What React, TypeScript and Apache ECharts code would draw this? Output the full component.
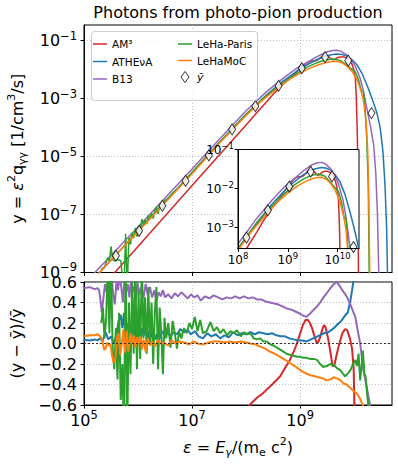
import React, { useEffect, useRef } from 'react';
import * as echarts from 'echarts';

const FONT = 'DejaVu Sans';
const NAMES = ['AM³', 'ATHEνA', 'B13', 'LeHa-Paris', 'LeHaMoC'];
const MEAN_NAME = 'ȳ';
const COLORS = ['#d62728', '#1f77b4', '#9467bd', '#2ca02c', '#ff7f0e'];

// ---------- upper panel: log10(ε) and log10(y) ----------
const am3LogE = [5.45, 6.0, 6.5, 7.0, 7.5, 8.04, 8.2, 8.38, 8.5, 8.63, 8.72, 8.81, 8.88, 8.94, 9.0, 9.05, 9.12, 9.18, 9.22, 9.27, 9.31, 9.35, 9.4, 9.44, 9.47, 9.52, 9.57, 9.6, 9.64, 9.68, 9.74, 9.8, 9.86, 9.92, 9.96, 9.99, 10.02, 10.04, 10.06, 10.07, 10.08];
const am3LogY = [-9.25, -8.1, -7.05, -6.0, -4.95, -3.82, -3.48, -3.11, -2.85, -2.6, -2.43, -2.29, -2.17, -2.06, -1.96, -1.87, -1.77, -1.71, -1.7, -1.7, -1.68, -1.63, -1.55, -1.51, -1.51, -1.55, -1.62, -1.66, -1.65, -1.59, -1.56, -1.56, -1.6, -1.7, -1.82, -1.98, -2.3, -3.0, -4.5, -6.5, -9.5];

const athenaLogE = [5.1, 5.5, 6.0, 6.5, 7.0, 7.5, 8.0, 8.38, 8.69, 9.0, 9.12, 9.31, 9.49, 9.6, 9.68, 9.78, 9.86, 9.96, 10.05, 10.15, 10.25, 10.33, 10.42, 10.48, 10.53, 10.57, 10.6, 10.62];
const athenaLogY = [-9.38, -8.58, -7.56, -6.56, -5.56, -4.52, -3.54, -2.87, -2.39, -1.97, -1.84, -1.65, -1.52, -1.48, -1.46, -1.48, -1.53, -1.66, -1.83, -2.15, -2.6, -3.0, -3.5, -4.0, -4.8, -6.0, -7.5, -9.5];

const b13LogE = [5.1, 5.5, 6.0, 6.5, 7.0, 7.5, 8.0, 8.38, 8.69, 8.94, 9.12, 9.31, 9.49, 9.6, 9.68, 9.76, 9.86, 9.94, 10.02, 10.11, 10.17, 10.24, 10.3, 10.36, 10.4, 10.43, 10.46];
const b13LogY = [-9.2, -8.41, -7.43, -6.43, -5.43, -4.41, -3.42, -2.76, -2.29, -1.95, -1.76, -1.55, -1.39, -1.34, -1.33, -1.37, -1.49, -1.65, -1.88, -2.3, -2.73, -3.4, -3.95, -4.6, -5.6, -7.0, -9.5];

const lehaLogE = [5.32, 5.38, 5.44, 5.47, 5.5, 5.53, 5.56, 5.62, 5.68, 5.74, 5.77, 5.8, 5.83, 5.86, 5.89, 5.92, 5.95, 5.98, 6.01, 6.04, 6.07, 6.1, 6.13, 6.16, 6.19, 6.22, 6.25, 6.28, 6.31, 6.34, 6.37, 6.4, 6.43, 6.46, 6.49, 6.55, 6.65, 6.75, 6.85, 7.0, 7.5, 8.0, 8.3, 8.57, 8.75, 8.94, 9.12, 9.31, 9.46, 9.62, 9.74, 9.83, 9.93, 10.02, 10.08, 10.13, 10.17, 10.2, 10.23, 10.26, 10.28];
const lehaLogY = [-8.88, -8.82, -8.48, -8.62, -8.1, -8.56, -8.6, -8.55, -8.59, -9.6, -7.66, -9.6, -7.79, -8.03, -7.62, -7.81, -7.46, -7.76, -7.4, -7.59, -7.16, -7.38, -7.18, -7.33, -7.03, -7.16, -6.95, -7.14, -6.87, -6.73, -6.98, -6.67, -6.7, -6.83, -6.52, -6.45, -6.24, -6.08, -5.85, -5.54, -4.52, -3.54, -3.02, -2.61, -2.37, -2.13, -1.92, -1.76, -1.67, -1.63, -1.68, -1.8, -1.95, -2.08, -2.35, -2.72, -2.78, -3.3, -4.3, -6.0, -9.5];

const lehamocLogE = [5.1, 5.5, 6.0, 6.5, 7.0, 7.5, 8.0, 8.26, 8.44, 8.63, 8.81, 9.0, 9.19, 9.34, 9.49, 9.6, 9.68, 9.78, 9.86, 9.96, 10.05, 10.11, 10.17, 10.22, 10.25, 10.27, 10.29];
const lehamocLogY = [-9.37, -8.57, -7.59, -6.59, -5.59, -4.55, -3.58, -3.12, -2.85, -2.57, -2.33, -2.12, -1.94, -1.83, -1.75, -1.72, -1.71, -1.77, -1.87, -2.06, -2.34, -2.64, -3.05, -3.8, -4.8, -6.5, -9.5];

const meanLogE = [5.59, 6.02, 6.45, 6.88, 7.31, 7.74, 8.17, 8.6, 9.03, 9.46, 9.89, 10.32];
const meanLogY = [-8.42, -7.56, -6.7, -5.84, -4.96, -4.06, -3.26, -2.56, -1.95, -1.57, -1.69, -3.5];

// ---------- lower panel: log10(ε) and (y - ȳ)/ȳ ----------
const am3ResLogE = [7.8, 7.95, 8.04, 8.1, 8.2, 8.3, 8.38, 8.5, 8.63, 8.72, 8.81, 8.88, 8.94, 9.0, 9.05, 9.1, 9.14, 9.18, 9.22, 9.27, 9.31, 9.35, 9.4, 9.44, 9.47, 9.52, 9.57, 9.6, 9.63, 9.67, 9.72, 9.78, 9.83, 9.87, 9.92, 9.96, 9.99, 10.01];
const am3Res = [-0.8, -0.68, -0.62, -0.58, -0.53, -0.49, -0.45, -0.39, -0.32, -0.24, -0.16, -0.08, 0.0, 0.1, 0.18, 0.23, 0.23, 0.2, 0.15, 0.06, 0.0, 0.03, 0.12, 0.18, 0.16, 0.04, -0.12, -0.22, -0.22, -0.12, -0.01, 0.1, 0.14, 0.13, 0.05, -0.05, -0.25, -0.8];

const athenaResLogE = [5.0, 5.1, 5.2, 5.25, 5.3, 5.34, 5.4, 5.45, 5.5, 5.55, 5.6, 5.64, 5.68, 5.71, 5.74, 5.77, 5.8, 5.83, 5.86, 5.89, 5.93, 5.96, 5.99, 6.02, 6.05, 6.08, 6.11, 6.14, 6.17, 6.2, 6.24, 6.28, 6.32, 6.36, 6.4, 6.45, 6.5, 6.55, 6.6, 6.66, 6.72, 6.78, 6.85, 6.92, 6.98, 7.05, 7.12, 7.2, 7.28, 7.36, 7.44, 7.52, 7.6, 7.68, 7.76, 7.84, 7.92, 8.0, 8.08, 8.16, 8.24, 8.32, 8.4, 8.48, 8.56, 8.64, 8.72, 8.8, 8.88, 8.96, 9.04, 9.12, 9.2, 9.28, 9.36, 9.44, 9.52, 9.6, 9.68, 9.76, 9.84, 9.88, 9.93, 9.96, 10.0];
const athenaRes = [0.04, 0.03, 0.04, 0.03, 0.05, 0.02, 0.11, 0.04, 0.07, 0.0, 0.08, 0.22, 0.28, 0.15, 0.3, 0.06, 0.2, 0.14, 0.03, 0.18, 0.25, 0.05, 0.12, 0.22, 0.04, 0.15, 0.08, 0.18, 0.02, 0.12, 0.06, 0.15, 0.04, 0.1, 0.05, 0.12, 0.08, 0.1, 0.07, 0.11, 0.09, 0.14, 0.11, 0.13, 0.09, 0.12, 0.07, 0.05, 0.1, 0.07, 0.09, 0.05, 0.08, 0.06, 0.11, 0.08, 0.1, 0.09, 0.11, 0.09, 0.11, 0.1, 0.09, 0.1, 0.08, 0.07, 0.07, 0.05, 0.04, 0.03, 0.03, 0.02, 0.04, 0.06, 0.08, 0.1, 0.11, 0.14, 0.18, 0.22, 0.28, 0.3, 0.42, 0.52, 0.66];

const b13ResLogE = [5.0, 5.1, 5.2, 5.25, 5.28, 5.31, 5.33, 5.36, 5.39, 5.42, 5.45, 5.48, 5.51, 5.54, 5.57, 5.6, 5.63, 5.66, 5.69, 5.72, 5.75, 5.78, 5.81, 5.84, 5.87, 5.9, 5.93, 5.96, 5.99, 6.02, 6.06, 6.1, 6.14, 6.18, 6.22, 6.26, 6.3, 6.34, 6.38, 6.42, 6.46, 6.5, 6.56, 6.62, 6.68, 6.74, 6.8, 6.86, 6.92, 6.98, 7.04, 7.1, 7.16, 7.24, 7.32, 7.4, 7.48, 7.56, 7.64, 7.72, 7.8, 7.88, 7.96, 8.04, 8.12, 8.2, 8.28, 8.36, 8.44, 8.52, 8.6, 8.68, 8.76, 8.84, 8.92, 9.0, 9.06, 9.12, 9.18, 9.25, 9.31, 9.37, 9.43, 9.49, 9.56, 9.62, 9.68, 9.72, 9.78, 9.86, 9.93, 9.98, 10.02, 10.06, 10.11, 10.17, 10.24, 10.3];
const b13Res = [0.54, 0.55, 0.53, 0.54, 0.52, 0.4, 0.3, 0.45, 0.58, 0.5, 0.62, 0.52, 0.66, 0.48, 0.38, 0.6, 0.52, 0.66, 0.55, 0.4, 0.64, 0.5, 0.58, 0.45, 0.62, 0.5, 0.56, 0.42, 0.6, 0.48, 0.55, 0.44, 0.58, 0.47, 0.55, 0.45, 0.52, 0.42, 0.5, 0.46, 0.52, 0.45, 0.48, 0.44, 0.49, 0.46, 0.5, 0.47, 0.44, 0.48, 0.45, 0.47, 0.42, 0.46, 0.44, 0.47, 0.45, 0.43, 0.45, 0.44, 0.46, 0.44, 0.46, 0.44, 0.45, 0.43, 0.43, 0.41, 0.4, 0.39, 0.38, 0.36, 0.34, 0.33, 0.31, 0.29, 0.27, 0.26, 0.29, 0.33, 0.36, 0.4, 0.45, 0.49, 0.54, 0.58, 0.6, 0.57, 0.52, 0.46, 0.38, 0.31, 0.26, 0.14, 0.0, -0.26, -0.45, -0.62];

const lehaResLogE = [5.32, 5.35, 5.38, 5.41, 5.44, 5.47, 5.5, 5.53, 5.56, 5.59, 5.62, 5.65, 5.68, 5.71, 5.74, 5.77, 5.8, 5.83, 5.86, 5.89, 5.92, 5.95, 5.98, 6.01, 6.04, 6.07, 6.1, 6.13, 6.16, 6.19, 6.22, 6.25, 6.28, 6.31, 6.34, 6.37, 6.4, 6.43, 6.46, 6.49, 6.52, 6.56, 6.6, 6.64, 6.68, 6.72, 6.76, 6.8, 6.85, 6.9, 6.95, 7.0, 7.05, 7.1, 7.15, 7.2, 7.27, 7.34, 7.4, 7.46, 7.52, 7.58, 7.65, 7.71, 7.77, 7.83, 7.9, 7.96, 8.02, 8.08, 8.14, 8.2, 8.26, 8.32, 8.38, 8.45, 8.51, 8.57, 8.63, 8.69, 8.75, 8.81, 8.88, 8.94, 9.0, 9.06, 9.12, 9.18, 9.25, 9.31, 9.37, 9.43, 9.49, 9.56, 9.62, 9.68, 9.74, 9.8, 9.83, 9.87, 9.93, 9.98, 10.02, 10.05, 10.08, 10.11, 10.14, 10.16, 10.19, 10.21, 10.24, 10.27];
const lehaRes = [0.2, 0.35, 0.05, 0.25, 0.75, 0.1, 0.8, -0.05, -0.25, 0.15, -0.35, 0.3, -0.55, -0.2, -0.9, 0.85, -0.9, 0.4, -0.3, 0.6, -0.1, 0.75, -0.25, 0.5, -0.15, 0.8, 0.05, 0.45, -0.1, 0.55, 0.0, 0.4, -0.2, 0.3, 0.55, -0.25, 0.35, 0.1, -0.3, 0.25, 0.05, 0.2, -0.04, 0.22, 0.1, -0.05, 0.12, 0.05, 0.15, 0.1, 0.2, 0.14, 0.26, 0.12, 0.23, 0.1, 0.12, 0.21, 0.12, 0.16, 0.1, 0.14, 0.08, 0.12, 0.1, 0.13, 0.07, 0.11, 0.09, 0.1, 0.05, 0.04, 0.05, 0.02, 0.02, -0.01, -0.02, -0.04, -0.06, -0.08, -0.1, -0.11, -0.12, -0.13, -0.13, -0.14, -0.14, -0.15, -0.15, -0.16, -0.2, -0.23, -0.22, -0.2, -0.21, -0.24, -0.26, -0.3, -0.32, -0.3, -0.26, -0.2, -0.16, -0.22, -0.1, -0.36, -0.2, -0.07, -0.3, -0.32, -0.5, -0.65];

const lehamocResLogE = [5.0, 5.1, 5.2, 5.25, 5.3, 5.34, 5.37, 5.4, 5.43, 5.46, 5.49, 5.52, 5.55, 5.58, 5.61, 5.64, 5.67, 5.7, 5.73, 5.76, 5.79, 5.82, 5.86, 5.89, 5.92, 5.95, 5.98, 6.01, 6.04, 6.07, 6.1, 6.14, 6.18, 6.22, 6.26, 6.31, 6.36, 6.42, 6.48, 6.55, 6.62, 6.7, 6.78, 6.86, 6.94, 7.02, 7.1, 7.2, 7.3, 7.4, 7.5, 7.6, 7.7, 7.8, 7.9, 8.0, 8.08, 8.18, 8.26, 8.35, 8.44, 8.53, 8.63, 8.72, 8.81, 8.9, 9.0, 9.1, 9.19, 9.27, 9.34, 9.42, 9.49, 9.56, 9.62, 9.68, 9.75, 9.8, 9.86, 9.92, 9.98, 10.05, 10.11, 10.17];
const lehamocRes = [0.07, 0.08, 0.08, 0.09, 0.07, 0.03, -0.06, -0.05, 0.01, -0.02, -0.01, -0.12, -0.19, -0.15, 0.06, 0.1, -0.11, 0.0, 0.14, -0.09, 0.12, -0.08, 0.1, -0.01, 0.08, -0.04, 0.06, 0.0, 0.07, -0.06, 0.04, -0.08, 0.05, -0.02, 0.02, -0.03, 0.03, 0.0, 0.01, -0.02, 0.03, 0.0, 0.02, 0.01, -0.01, 0.02, 0.0, -0.01, 0.01, 0.02, 0.02, 0.01, 0.02, 0.01, 0.02, 0.01, 0.0, -0.01, -0.03, -0.05, -0.08, -0.1, -0.13, -0.16, -0.19, -0.22, -0.26, -0.29, -0.31, -0.32, -0.33, -0.34, -0.36, -0.35, -0.33, -0.34, -0.36, -0.39, -0.4, -0.43, -0.46, -0.49, -0.54, -0.62];

// ---------- axis ticks ----------
const X_TICKS = [1.0001e5, 1e7, 1e9];
const Y_TICKS = [1.0001e-9, 1e-7, 1e-5, 1e-3, 1e-1];
const INSET_X_TICKS = [1.0001e8, 1e9, 1e10];
const INSET_Y_TICKS = [1e-3, 1e-2, 0.09999];
const RES_TICKS_STEP = 0.2;

const toXY = (le: number[], ly: number[]) => le.map((e, i) => [Math.pow(10, e), Math.pow(10, ly[i])]);
const toXR = (le: number[], r: number[]) => le.map((e, i) => [Math.pow(10, e), r[i]]);

const TOP_DATA = [
  toXY(am3LogE, am3LogY),
  toXY(athenaLogE, athenaLogY),
  toXY(b13LogE, b13LogY),
  toXY(lehaLogE, lehaLogY),
  toXY(lehamocLogE, lehamocLogY),
];
const MEAN_DATA = toXY(meanLogE, meanLogY);
const RES_DATA = [
  toXR(am3ResLogE, am3Res),
  toXR(athenaResLogE, athenaRes),
  toXR(b13ResLogE, b13Res),
  toXR(lehaResLogE, lehaRes),
  toXR(lehamocResLogE, lehamocRes),
];

const pow10Label = (v: number) => {
  const e = Math.round(Math.log10(v));
  return `{b|10}{s|${e < 0 ? '\u2212' + -e : e}}`;
};

const richMain = {
  b: { fontSize: 16, lineHeight: 22, color: '#000', fontFamily: FONT },
  s: { fontSize: 11.5, lineHeight: 11, verticalAlign: 'top', color: '#000', fontFamily: FONT },
};
const richInset = {
  b: { fontSize: 12, lineHeight: 17, color: '#000', fontFamily: FONT },
  s: { fontSize: 8.5, lineHeight: 8, verticalAlign: 'top', color: '#000', fontFamily: FONT },
};
const richName = {
  a: { fontSize: 16, lineHeight: 22, color: '#000', fontFamily: FONT },
  i: { fontSize: 16, lineHeight: 22, color: '#000', fontFamily: FONT, fontStyle: 'italic' },
  p: { fontSize: 11, lineHeight: 11, verticalAlign: 'top', color: '#000', fontFamily: FONT },
  q: { fontSize: 11, lineHeight: 11, verticalAlign: 'bottom', color: '#000', fontFamily: FONT },
  qi: { fontSize: 11, lineHeight: 11, verticalAlign: 'bottom', color: '#000', fontFamily: FONT, fontStyle: 'italic' },
};

const black = { color: '#000', width: 1 };
const gridLine = { show: true, lineStyle: { color: '#b0b0b0', width: 0.8, type: [1, 2] } };

const LINE_ICON = 'path://M0,0L0.01,0L0.01,0.01Z M0,4.75L14,4.75L14,6.25L0,6.25Z M13.99,10.99L14,10.99L14,11Z';
const DIAMOND_ICON = 'path://M4,0L8,5.5L4,11L0,5.5Z';

function buildOption() {
  const series: any[] = [];
  // main panel
  TOP_DATA.forEach((d, i) => {
    series.push({
      type: 'line', name: NAMES[i], data: d, xAxisIndex: 0, yAxisIndex: 0,
      showSymbol: false, symbol: 'none', color: COLORS[i],
      lineStyle: { color: COLORS[i], width: 1.5 }, clip: true, silent: true, z: 2,
    });
  });
  series.push({
    type: 'scatter', name: MEAN_NAME, data: MEAN_DATA, xAxisIndex: 0, yAxisIndex: 0,
    symbol: 'diamond', symbolSize: [7, 11], silent: true, z: 3,
    itemStyle: { color: '#fff', borderColor: '#000', borderWidth: 1 },
  });
  // inset
  TOP_DATA.forEach((d, i) => {
    series.push({
      type: 'line', name: NAMES[i], data: d, xAxisIndex: 2, yAxisIndex: 2,
      showSymbol: false, symbol: 'none', color: COLORS[i],
      lineStyle: { color: COLORS[i], width: 1.5 }, clip: true, silent: true, z: 21,
    });
  });
  series.push({
    type: 'scatter', name: MEAN_NAME, data: MEAN_DATA, xAxisIndex: 2, yAxisIndex: 2,
    symbol: 'diamond', symbolSize: [7, 11], silent: true, z: 22,
    itemStyle: { color: '#fff', borderColor: '#000', borderWidth: 1 },
  });
  // residual panel
  RES_DATA.forEach((d, i) => {
    const s: any = {
      type: 'line', name: NAMES[i], data: d, xAxisIndex: 1, yAxisIndex: 1,
      showSymbol: false, symbol: 'none', color: COLORS[i],
      lineStyle: { color: COLORS[i], width: 2 }, clip: true, silent: true, z: 2,
    };
    if (i === 0) {
      s.markLine = {
        silent: true, symbol: 'none', label: { show: false },
        lineStyle: { color: '#333', width: 1, type: [2, 2] },
        data: [{ yAxis: 0 }],
      };
    }
    series.push(s);
  });

  const logX = (gridIndex: number, min: number, max: number, ticks: number[], labels: boolean, inset: boolean) => ({
    type: 'log', logBase: 10, gridIndex, min, max,
    axisLine: { show: true, onZero: false, lineStyle: black },
    axisTick: { show: true, length: 3.5, customValues: ticks, lineStyle: black },
    axisLabel: labels
      ? { show: true, customValues: ticks, formatter: pow10Label, margin: inset ? 3 : 4, rich: inset ? richInset : richMain }
      : { show: false },
    splitLine: inset ? { show: false } : gridLine,
    minorTick: { show: false },
    z: inset ? 23 : 0,
  });

  return {
    animation: false,
    backgroundColor: '#fff',
    textStyle: { fontFamily: FONT },
    title: {
      text: 'Photons from photo-pion production',
      left: 238, top: 4, textAlign: 'center', padding: 0,
      textStyle: { fontSize: 16, fontWeight: 'normal', color: '#000', fontFamily: FONT },
    },
    grid: [
      { left: 84, top: 25, width: 308, height: 247.5, show: true, borderColor: '#000', borderWidth: 1, backgroundColor: 'transparent', containLabel: false, outerBoundsMode: 'none' },
      { left: 84, top: 282, width: 308, height: 123, show: true, borderColor: '#000', borderWidth: 1, backgroundColor: 'transparent', containLabel: false, outerBoundsMode: 'none' },
      { left: 238, top: 149.5, width: 121, height: 99, show: true, borderColor: '#000', borderWidth: 1, backgroundColor: '#fff', containLabel: false, outerBoundsMode: 'none', z: 20 },
    ],
    xAxis: [
      logX(0, 1e5, 5.0e10, X_TICKS, false, false),
      {
        ...logX(1, 1e5, 5.0e10, X_TICKS, true, false),
        name: '{i|ε}{a| = }{i|E}{qi|γ}{a|/(m}{q|e}{a| c}{p|2}{a|)}',
        nameLocation: 'middle', nameGap: 31,
        nameTextStyle: { rich: richName, fontSize: 16, color: '#000' },
      },
      logX(2, 1e8, 2.7e10, INSET_X_TICKS, true, true),
    ],
    yAxis: [
      {
        type: 'log', logBase: 10, gridIndex: 0, min: 1e-9, max: 0.347,
        axisLine: { show: true, lineStyle: black },
        axisTick: { show: true, length: 3.5, customValues: Y_TICKS, lineStyle: black },
        axisLabel: { show: true, customValues: Y_TICKS, formatter: pow10Label, margin: 7, rich: richMain },
        splitLine: gridLine, minorTick: { show: false },
        name: '{a|y = }{i|ε}{p|2}{a|q}{q|γγ}{a| [1/cm}{p|3}{a|/s]}',
        nameLocation: 'middle', nameRotate: 90, nameGap: 56,
        nameTextStyle: { rich: richName, fontSize: 16, color: '#000' },
      },
      {
        type: 'value', gridIndex: 1, min: -0.6, max: 0.6, interval: RES_TICKS_STEP,
        axisLine: { show: true, onZero: false, lineStyle: black },
        axisTick: { show: true, length: 3.5, lineStyle: black },
        axisLabel: {
          show: true, margin: 7, fontSize: 16, color: '#000', fontFamily: FONT,
          formatter: (v: number) => (Math.abs(v) < 1e-9 ? '0.0' : v.toFixed(1).replace('-', '\u2212')),
        },
        splitLine: gridLine,
        name: '(y \u2212 ȳ)/ȳ',
        nameLocation: 'middle', nameRotate: 90, nameGap: 56,
        nameTextStyle: { fontSize: 16, lineHeight: 22, color: '#000', fontFamily: FONT },
      },
      {
        type: 'log', logBase: 10, gridIndex: 2, min: 2.9e-4, max: 0.1,
        axisLine: { show: true, lineStyle: black },
        axisTick: { show: true, length: 3.5, customValues: INSET_Y_TICKS, lineStyle: black },
        axisLabel: { show: true, customValues: INSET_Y_TICKS, formatter: pow10Label, margin: 4, rich: richInset },
        splitLine: { show: false }, minorTick: { show: false }, z: 23,
      },
    ],
    legend: [
      {
        data: NAMES.slice(0, 3).map((n) => ({ name: n, icon: LINE_ICON })),
        left: 93, top: 37.5, orient: 'vertical', padding: 0,
        itemWidth: 14, itemHeight: 11, itemGap: 4.5, selectedMode: false,
        itemStyle: { borderWidth: 0 },
        textStyle: { fontSize: 10.5, lineHeight: 13, color: '#000', fontFamily: FONT },
        z: 6,
      },
      {
        data: [
          { name: NAMES[3], icon: LINE_ICON },
          { name: NAMES[4], icon: LINE_ICON },
          { name: MEAN_NAME, icon: DIAMOND_ICON, itemStyle: { color: '#fff', borderColor: '#000', borderWidth: 1 }, textStyle: { fontStyle: 'italic', fontSize: 11 } },
        ],
        left: 178, top: 37.5, orient: 'vertical', padding: 0,
        itemWidth: 14, itemHeight: 11, itemGap: 3.5, selectedMode: false,
        itemStyle: { borderWidth: 0 },
        textStyle: { fontSize: 10.5, lineHeight: 13, color: '#000', fontFamily: FONT },
        z: 6,
      },
    ],
    graphic: [
      {
        type: 'rect', left: 91, top: 31, z: 5, silent: true,
        shape: { width: 166, height: 69, r: 3 },
        style: { fill: 'rgba(255,255,255,0.8)', stroke: '#cccccc', lineWidth: 1 },
      },
    ],
    series,
  };
}

export default function App() {
  const ref = useRef<HTMLDivElement>(null);
  useEffect(() => {
    if (!ref.current) return;
    const chart = echarts.init(ref.current, undefined, { renderer: 'svg' });
    chart.setOption(buildOption() as any);
    return () => chart.dispose();
  }, []);
  return <div ref={ref} style={{ position: 'fixed', left: 0, top: 0, width: 398, height: 470 }} />;
}
